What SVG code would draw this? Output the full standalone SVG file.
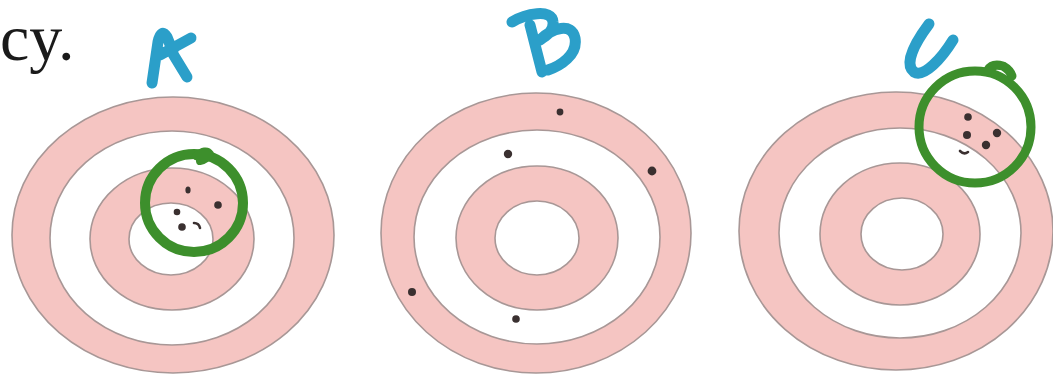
<svg xmlns="http://www.w3.org/2000/svg" width="1053" height="383" viewBox="0 0 1053 383">
<style>
.pink{fill:#f5c5c2;stroke:#a89796;stroke-width:1.6}
.white{fill:#ffffff;stroke:#a89796;stroke-width:1.6}
.ink{fill:none;stroke:#2b9fc9;stroke-width:11;stroke-linecap:round;stroke-linejoin:round}
.mark{fill:none;stroke:#3d8f2c;stroke-linecap:round;stroke-linejoin:round}
.hole{fill:#3a3030}
.txt{font-family:"Liberation Serif","Times New Roman",serif;font-size:66px;fill:#1a1a1a}
</style>
<rect width="1053" height="383" fill="#ffffff"/>
<text class="txt" x="0" y="60">cy.</text>

<g id="target-a">
<ellipse class="pink" cx="173" cy="235" rx="161" ry="138"/>
<ellipse class="white" cx="172" cy="238" rx="122" ry="107"/>
<ellipse class="pink" cx="172" cy="239" rx="82" ry="71"/>
<ellipse class="white" cx="171" cy="239" rx="42" ry="36"/>
<ellipse class="mark" cx="194" cy="203" rx="49" ry="49" stroke-width="10"/>
<path class="mark" d="M196,156 Q206,148 210,154 Q206,160 200,161" stroke-width="8"/>
<ellipse class="hole" cx="188" cy="190" rx="2.6" ry="3.6"/>
<circle class="hole" cx="218" cy="205" r="3.8"/>
<circle class="hole" cx="177" cy="212" r="3.3"/>
<circle class="hole" cx="182" cy="227" r="3.8"/>
<path d="M194,223 Q199,223 200,228" fill="none" stroke="#3a3030" stroke-width="2.6" stroke-linecap="round"/>
<path class="ink" d="M152,83 L158,42 Q161,28 167,37 L173,52 M160,55 L191,38 M173,54 L187,77"/>
</g>

<g id="target-b">
<ellipse class="pink" cx="536" cy="233" rx="155" ry="140"/>
<ellipse class="white" cx="537" cy="237" rx="123" ry="107"/>
<ellipse class="pink" cx="537" cy="238" rx="81" ry="72"/>
<ellipse class="white" cx="537" cy="238" rx="42" ry="37"/>
<circle class="hole" cx="560" cy="112" r="3.4" fill="#6b5a58"/>
<circle class="hole" cx="508" cy="154" r="4.2"/>
<circle class="hole" cx="652" cy="171" r="4.4"/>
<circle class="hole" cx="412" cy="292" r="4"/>
<circle class="hole" cx="516" cy="319" r="3.8"/>
<path class="ink" d="M530,25 L542,72 M512,22 C525,14 552,8 553,22 C554,32 545,36 540,40 C552,28 572,22 575,38 C578,55 560,66 548,70"/>
</g>

<g id="target-c">
<ellipse class="pink" cx="896" cy="231" rx="157" ry="139"/>
<ellipse class="white" cx="900" cy="233" rx="121" ry="105"/>
<ellipse class="pink" cx="900" cy="234" rx="80" ry="71"/>
<ellipse class="white" cx="902" cy="234" rx="41" ry="36"/>
<ellipse class="mark" cx="975" cy="127" rx="56" ry="56" stroke-width="9"/>
<path class="mark" d="M988,70 Q992,63 1003,66 Q1010,70 1012,76" stroke-width="9"/>
<circle class="hole" cx="968" cy="117" r="3.8"/>
<circle class="hole" cx="997" cy="133" r="4.2"/>
<circle class="hole" cx="967" cy="135" r="4"/>
<circle class="hole" cx="986" cy="145" r="4.2"/>
<path d="M960,151 Q964,155 968,152" fill="none" stroke="#3a3030" stroke-width="2.6" stroke-linecap="round"/>
<path class="ink" d="M929,24 C914,44 904,64 914,72 C924,78 942,58 953,40"/>
</g>
</svg>
